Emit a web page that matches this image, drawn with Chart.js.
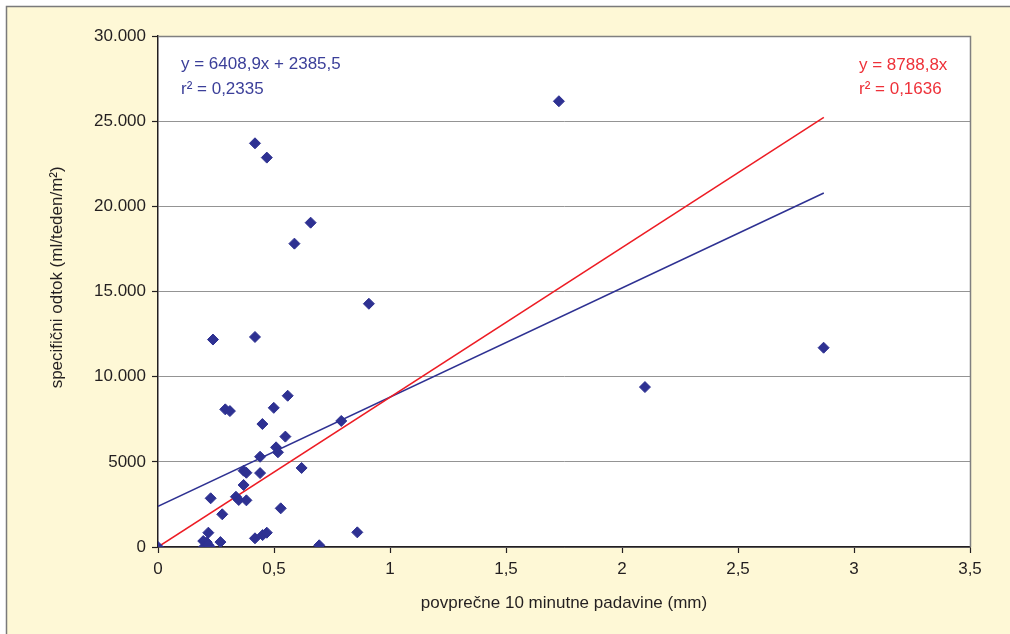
<!DOCTYPE html>
<html>
<head>
<meta charset="utf-8">
<script src="https://cdn.jsdelivr.net/npm/chart.js@4.4.1/dist/chart.umd.min.js"></script>
<style>
html, body { margin: 0; padding: 0; background: #fff; }
#wrap { position: absolute; left: 0; top: 0; width: 1010px; height: 634px; }
</style>
</head>
<body>
<div id="wrap"><canvas id="myChart" width="1010" height="634"></canvas></div>
<script>
// povprecne 10 minutne padavine (mm) vs specificni odtok
let rainX = [0, 1.728, 0.418, 0.469, 0.658, 0.588, 0.909, 0.237, 0.418, 2.869,
  2.099, 0.559, 0.499, 0.29, 0.31, 0.79, 0.45, 0.549, 0.509, 0.517,
  0.44, 0.619, 0.369, 0.381, 0.44, 0.369, 0.336, 0.348, 0.381, 0.227,
  0.529, 0.277, 0.217, 0.195, 0.21, 0.198, 0.224, 0.216, 0.269, 0.418,
  0.451, 0.469, 0.859, 0.695];
let runoffY = [0, 26170, 23700, 22860, 19040, 17810, 14280, 12180, 12330, 11700,
  9390, 8880, 8170, 8080, 7980, 7400, 7220, 6480, 5850, 5560,
  5300, 4640, 4480, 4360, 4340, 3640, 2950, 2760, 2740, 2860,
  2270, 1920, 840, 350, 280, 0, 0, 120, 290, 510,
  700, 840, 860, 100];

// trend lines (end points)
let linFitX = [0, 2.87];
let linFitY = [2385.5, 20780];
let zeroFitX = [0, 2.87];
let zeroFitY = [0, 25220];

let xTickLabels = ["0", "0,5", "1", "1,5", "2", "2,5", "3", "3,5"];
let yTickLabels = ["0", "5000", "10.000", "15.000", "20.000", "25.000", "30.000"];

let blueEq = ["y = 6408,9x + 2385,5", "r\u00b2 = 0,2335"];
let redEq = ["y = 8788,8x", "r\u00b2 = 0,1636"];

const FONT = "'Liberation Sans', Arial, sans-serif";
const INK = "#231f20";

function toPoints(xs, ys) {
  let pts = [];
  for (let i = 0; i < xs.length; i++) {
    pts.push({ x: xs[i], y: ys[i] });
  }
  return pts;
}

const bgPlugin = {
  id: "bgPlugin",
  beforeDraw(chart) {
    const ctx = chart.ctx;
    const a = chart.chartArea;
    ctx.save();
    ctx.fillStyle = "#ffffff";
    ctx.fillRect(0, 0, chart.width, chart.height);
    ctx.fillStyle = "#fef8d6";
    ctx.fillRect(6, 6, chart.width, chart.height);
    ctx.strokeStyle = "#7a7a7a";
    ctx.lineWidth = 1.5;
    ctx.beginPath();
    ctx.moveTo(6.5, chart.height);
    ctx.lineTo(6.5, 6.5);
    ctx.lineTo(chart.width, 6.5);
    ctx.stroke();
    ctx.fillStyle = "#ffffff";
    ctx.fillRect(a.left, a.top, a.right - a.left, a.bottom - a.top);
    ctx.restore();
  },
  afterDraw(chart) {
    const ctx = chart.ctx;
    const a = chart.chartArea;
    ctx.save();
    ctx.strokeStyle = "#808080";
    ctx.lineWidth = 1.5;
    ctx.beginPath();
    ctx.moveTo(a.left, a.top + 0.5);
    ctx.lineTo(a.right + 0.5, a.top + 0.5);
    ctx.lineTo(a.right + 0.5, a.bottom);
    ctx.stroke();

    ctx.font = "17px " + FONT;
    ctx.textBaseline = "alphabetic";
    ctx.textAlign = "left";
    ctx.fillStyle = "#3b3f99";
    ctx.fillText(blueEq[0], 181, 69);
    ctx.fillText(blueEq[1], 181, 94);
    ctx.fillStyle = "#ee3139";
    ctx.fillText(redEq[0], 859, 70);
    ctx.fillText(redEq[1], 859, 94);
    ctx.restore();
  }
};

const data = {
  datasets: [
    {
      label: "padavine",
      data: toPoints(rainX, runoffY),
      pointStyle: "rectRot",
      pointRadius: 5.5,
      pointBackgroundColor: "#2e3192",
      pointBorderColor: "#2e3192",
      pointBorderWidth: 1,
      showLine: false,
      order: 1
    },
    {
      label: "linearni",
      data: toPoints(linFitX, linFitY),
      showLine: true,
      borderColor: "#2e3192",
      borderWidth: 1.5,
      pointRadius: 0,
      order: 3
    },
    {
      label: "skozi 0",
      data: toPoints(zeroFitX, zeroFitY),
      showLine: true,
      borderColor: "#ed1c24",
      borderWidth: 1.5,
      pointRadius: 0,
      order: 2
    }
  ]
};

const config = {
  type: "scatter",
  data: data,
  options: {
    responsive: false,
    animation: false,
    devicePixelRatio: 1,
    layout: { padding: { left: 0, top: 36, right: 40, bottom: 0 } },
    plugins: {
      legend: { display: false },
      tooltip: { enabled: false }
    },
    scales: {
      x: {
        type: "linear",
        min: 0,
        max: 3.5,
        afterFit(scale) { scale.height = 87; },
        border: { color: INK, width: 1.5 },
        grid: { drawOnChartArea: false, drawTicks: true, tickLength: 6, tickColor: INK, tickWidth: 1.2 },
        ticks: {
          stepSize: 0.5,
          color: INK,
          padding: 6,
          maxRotation: 0,
          font: { family: FONT, size: 17 },
          callback: (value) => xTickLabels[Math.round(value * 2)]
        },
        title: {
          display: true,
          text: "povpre\u010dne 10 minutne padavine (mm)",
          color: INK,
          font: { family: FONT, size: 17 },
          padding: { top: 0, bottom: 20 }
        }
      },
      y: {
        type: "linear",
        min: 0,
        max: 30000,
        afterFit(scale) { scale.width = 158; },
        border: { color: INK, width: 1.5 },
        grid: { color: "#949494", lineWidth: 1, drawTicks: true, tickLength: 6, tickColor: INK, tickWidth: 1.2 },
        ticks: {
          stepSize: 5000,
          color: INK,
          padding: 6,
          font: { family: FONT, size: 17 },
          callback: (value) => yTickLabels[Math.round(value / 5000)]
        },
        title: {
          display: true,
          text: "      specifi\u010dni odtok (ml/teden/m\u00b2)",
          color: INK,
          font: { family: FONT, size: 17 },
          padding: { top: 47, bottom: 0 }
        }
      }
    }
  },
  plugins: [bgPlugin]
};

let canvasChart = document.getElementById("myChart");
new Chart(canvasChart, config);
</script>
</body>
</html>
